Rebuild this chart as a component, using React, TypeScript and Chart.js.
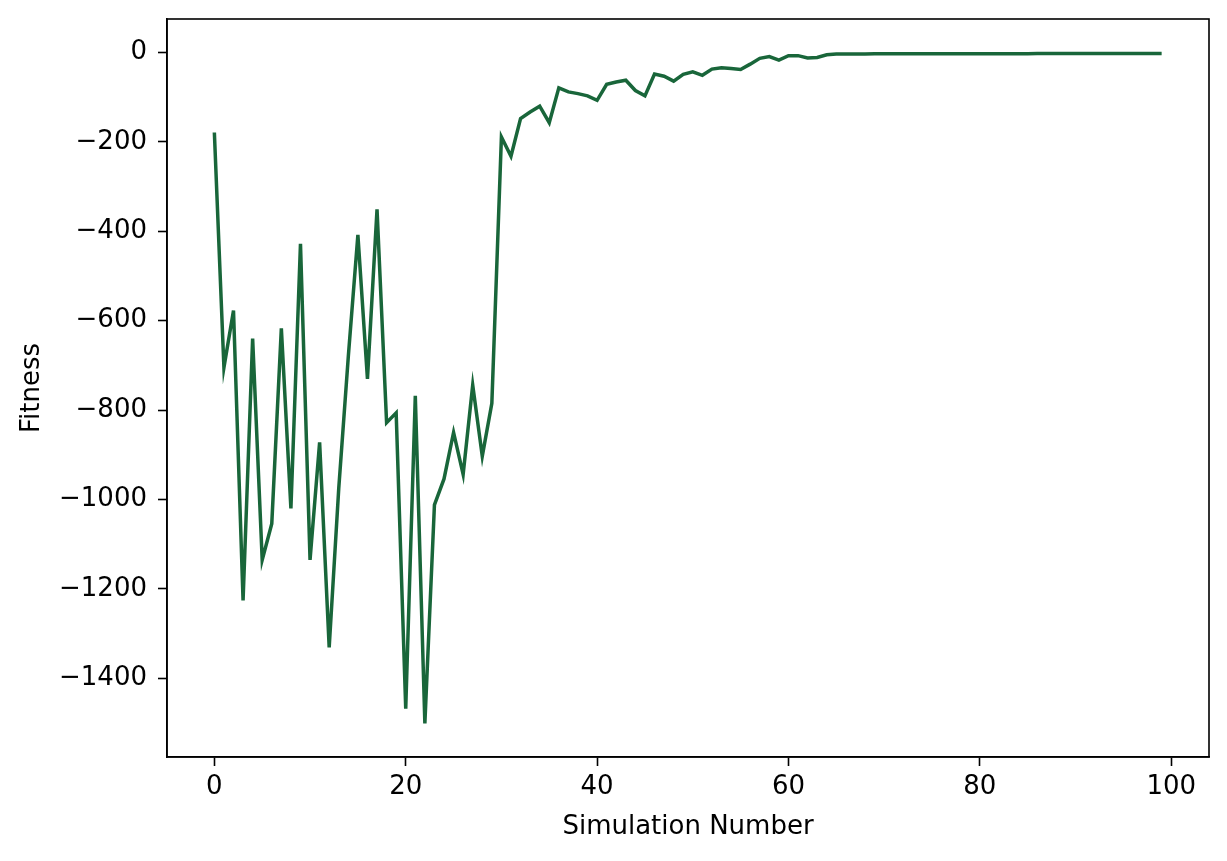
import { useEffect, useRef } from "react";
import { Chart, registerables } from "chart.js";

Chart.register(...registerables);

// fitness per simulation run
const fitness: number[] = [
  -179, -705, -577, -1226, -640, -1135, -1054, -617, -1020, -428,
  -1135, -872, -1331, -975, -680, -408, -730, -351, -828, -806,
  -1468, -768, -1501, -1012, -954, -850, -944, -744, -903, -785,
  -189, -232, -148, -133, -120, -157, -79, -88, -92, -97,
  -107, -71, -66, -62, -85, -97, -48, -53, -64, -49,
  -43, -51, -37, -34, -36, -38, -26, -13, -9, -17,
  -7, -7, -12, -11, -5, -3.5, -3.3, -3.2, -3.1, -3,
  -3, -2.9, -2.9, -2.8, -2.8, -2.8, -2.7, -2.7, -2.7, -2.6,
  -2.6, -2.6, -2.5, -2.5, -2.5, -2.5, -2.4, -2.4, -2.4, -2.4,
  -2.3, -2.3, -2.3, -2.3, -2.3, -2.2, -2.2, -2.2, -2.2, -2.2,
];
const simulations: number[] = fitness.map((_, i) => i);

const xTicks: number[] = [0, 20, 40, 60, 80, 100];
const yTicks: number[] = [-1400, -1200, -1000, -800, -600, -400, -200, 0];

const FONT = { family: "'DejaVu Sans', sans-serif", size: 26 };

const fmt = (v: number) => (v < 0 ? "\u2212" + Math.abs(v) : String(v));

// matplotlib-style full box around the axes
const frame = {
  id: "frame",
  afterDraw(chart: Chart) {
    const { ctx, chartArea: a } = chart;
    ctx.save();
    ctx.strokeStyle = "#000";
    ctx.lineWidth = 1.6;
    ctx.strokeRect(a.left, a.top, a.right - a.left, a.bottom - a.top);
    ctx.restore();
  },
};

const FitnessChart = () => {
  const canvasRef = useRef<HTMLCanvasElement | null>(null);

  useEffect(() => {
    document.body.style.margin = "0";
    if (!canvasRef.current) return;

    const chart = new Chart(canvasRef.current, {
      type: "line",
      data: {
        datasets: [
          {
            data: simulations.map((x, i) => ({ x, y: fitness[i] })),
            borderColor: "#19663a",
            borderWidth: 3.5,
            pointRadius: 0,
            tension: 0,
            fill: false,
          },
        ],
      },
      options: {
        animation: false,
        responsive: true,
        maintainAspectRatio: false,
        layout: { padding: { top: 19, right: 18, left: 0, bottom: 0 } },
        plugins: { legend: { display: false }, tooltip: { enabled: false } },
        scales: {
          x: {
            type: "linear",
            min: -4.95,
            max: 103.95,
            afterBuildTicks: (s: any) => {
              s.ticks = xTicks.map((value) => ({ value }));
            },
            afterFit: (s: any) => {
              s.height = 104;
              s.paddingLeft = 0;
              s.paddingRight = 0;
            },
            grid: {
              drawOnChartArea: false,
              drawTicks: true,
              tickLength: 9,
              tickWidth: 1.6,
              tickColor: "#000",
            },
            border: { display: true, color: "#000", width: 1.6 },
            ticks: {
              color: "#000",
              font: FONT,
              padding: 6,
              maxRotation: 0,
              autoSkip: false,
              callback: (v: any) => fmt(Number(v)),
            },
            title: {
              display: true,
              text: "Simulation Number",
              color: "#000",
              font: FONT,
              padding: { top: 0, bottom: 18 },
            },
          },
          y: {
            type: "linear",
            min: -1576,
            max: 75,
            afterBuildTicks: (s: any) => {
              s.ticks = yTicks.map((value) => ({ value }));
            },
            afterFit: (s: any) => {
              s.width = 167;
              s.paddingTop = 0;
              s.paddingBottom = 0;
            },
            grid: {
              drawOnChartArea: false,
              drawTicks: true,
              tickLength: 9,
              tickWidth: 1.6,
              tickColor: "#000",
            },
            border: { display: true, color: "#000", width: 1.6 },
            ticks: {
              color: "#000",
              font: FONT,
              padding: 11,
              autoSkip: false,
              callback: (v: any) => fmt(Number(v)),
            },
            title: {
              display: true,
              text: "Fitness",
              color: "#000",
              font: FONT,
              padding: { top: 17, bottom: 0 },
            },
          },
        },
      },
      plugins: [frame],
    });

    return () => {
      chart.destroy();
    };
  }, []);

  return (
    <div style={{ width: 1227, height: 861, position: "relative", background: "#fff" }}>
      <canvas ref={canvasRef} />
    </div>
  );
};

export default function App() {
  return <FitnessChart />;
}
